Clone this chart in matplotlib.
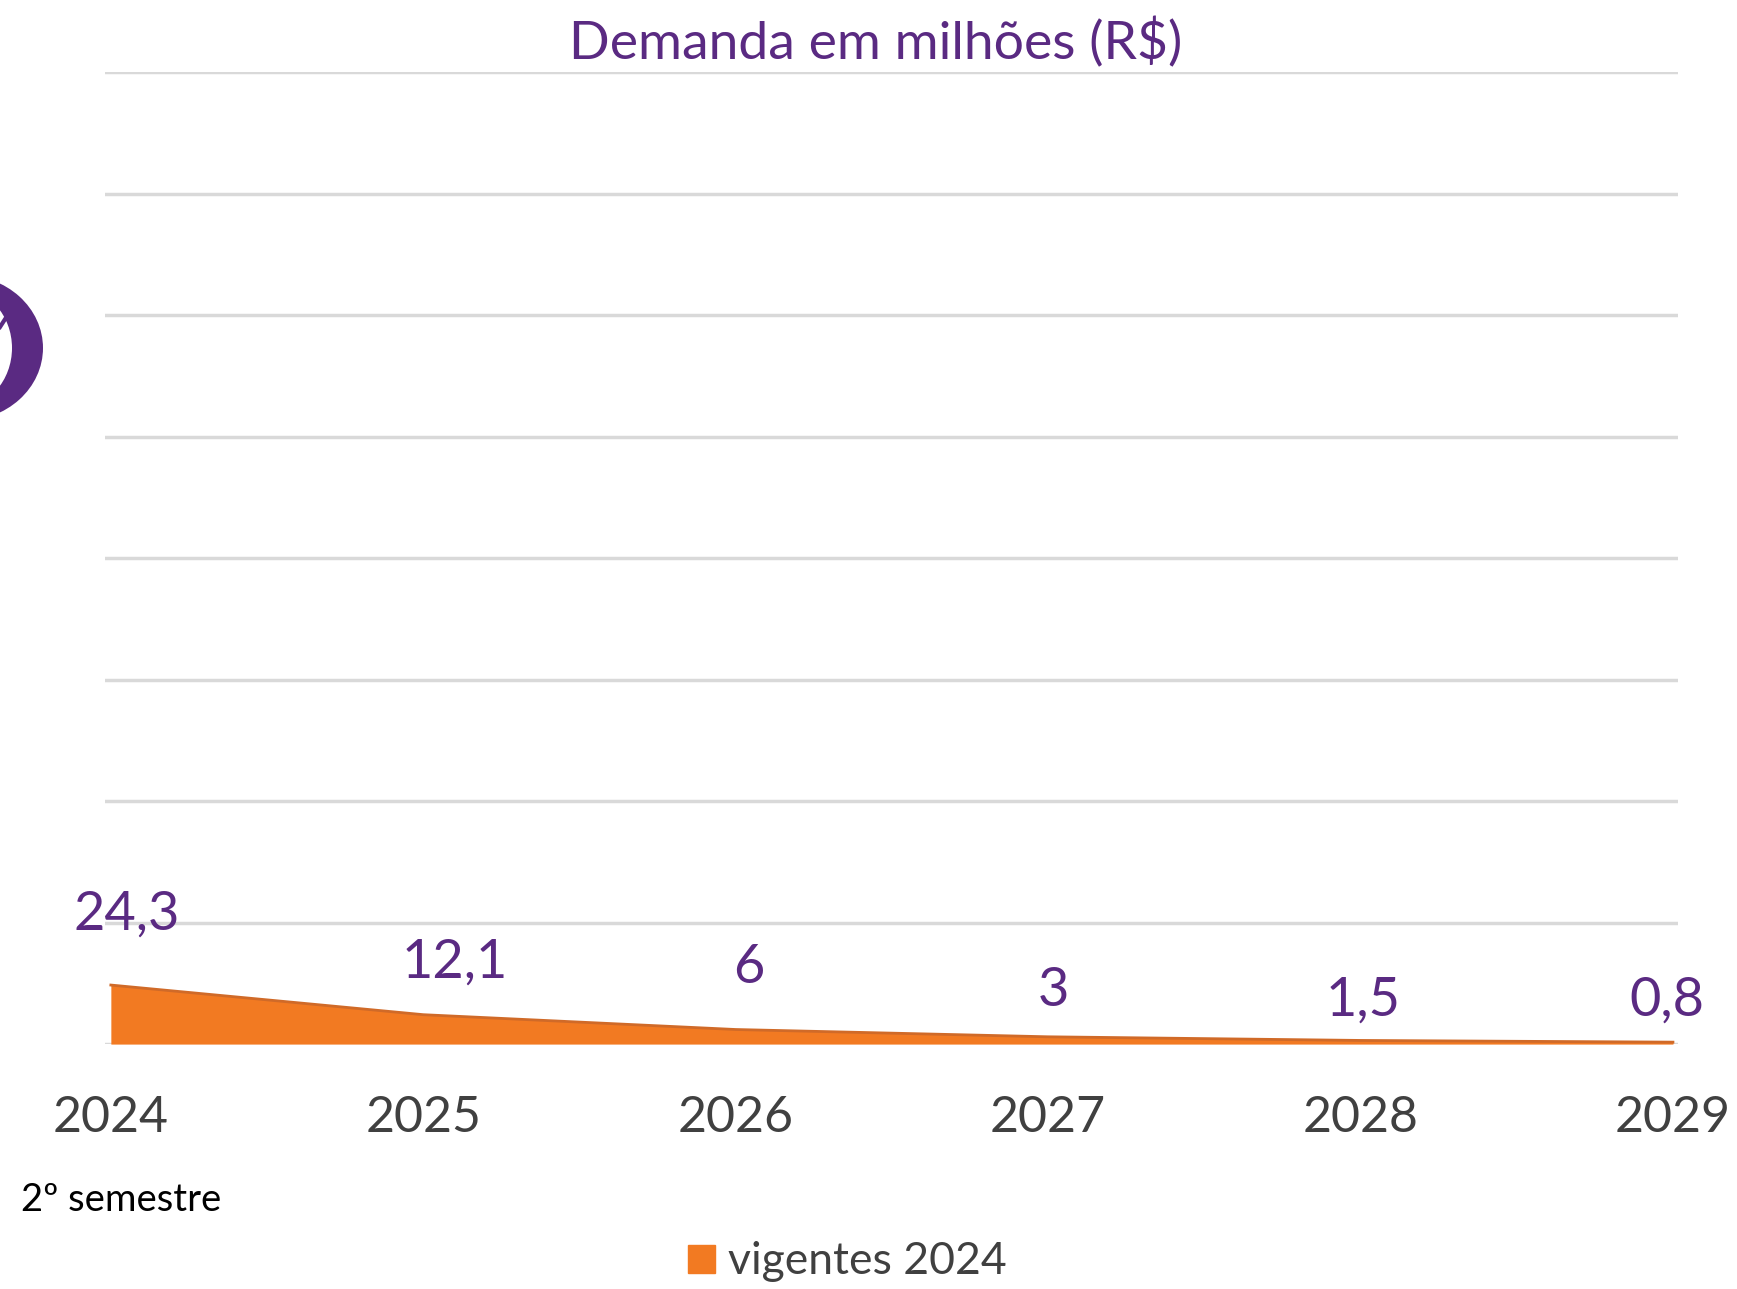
import matplotlib
matplotlib.use("Agg")
import matplotlib.pyplot as plt
from matplotlib.patches import Ellipse

years = ["2024", "2025", "2026", "2027", "2028", "2029"]
values = [24.3, 12.1, 6, 3, 1.5, 0.8]
value_labels = ["24,3", "12,1", "6", "3", "1,5", "0,8"]
series_name = "vigentes 2024"
title = "Demanda em milhões (R$)"
subtitle = "2º semestre"

# label offsets in pixels (layout only)
label_offsets = [(16, 71), (31, 53), (13, 62), (5, 46), (3, 40), (-6, 42)]

purple = "#5a2a82"
orange = "#f27a22"
fam = ["Lato", "DejaVu Sans"]

fig = plt.figure(figsize=(17.37, 12.89), dpi=100)
ax = fig.add_axes([0.0604, 0.190, 0.9056, 0.754])
x = list(range(len(years)))
ax.fill_between(x, 0, values, color=orange, linewidth=0, zorder=3)
ax.plot(x, values, color="#d06a28", linewidth=2, zorder=4)
ax.set_xlim(-0.019, 5.016)
ax.set_ylim(0, 400)
ax.set_yticks(range(0, 401, 50))
ax.yaxis.grid(True, color="#d9d9d9", linewidth=2.5)
ax.set_axisbelow(True)
ax.tick_params(axis="y", left=False, labelleft=False)
ax.set_xticks(x)
ax.set_xticklabels(years, family=fam, fontsize=36, color="#404040")
ax.tick_params(axis="x", length=0, pad=37)
for s in ax.spines.values():
    s.set_visible(False)

for xi, v, lab, (dx, dy) in zip(x, values, value_labels, label_offsets):
    ax.annotate(lab, (xi, v), xytext=(dx, dy), textcoords="offset pixels",
                ha="center", va="center", color=purple, fontsize=39, family=fam,
                zorder=5)

fig.text(0.504, 0.967, title, ha="center", va="center", color=purple,
         fontsize=38.5, family=fam)
fig.text(0.012, 0.069, subtitle, ha="left", va="center", color="black",
         fontsize=27.5, family=fam)

# partial purple decoration at left edge (crescent)
tr = fig.dpi_scale_trans
outer = Ellipse((-0.38, 12.89 - 3.48), 1.62, 1.46, facecolor=purple,
                edgecolor="none", transform=tr)
inner = Ellipse((-0.42, 12.89 - 3.48), 1.08, 1.20, facecolor="white",
                edgecolor="none", transform=tr)
fig.patches.extend([outer, inner])
fig.lines.append(plt.Line2D([0.0, 0.09], [12.89 - 3.27, 12.89 - 3.13],
                            color=purple, linewidth=3, transform=tr))

leg = fig.legend([plt.Rectangle((0, 0), 1, 1, color=orange)], [series_name],
                 loc="center", bbox_to_anchor=(0.488, 0.021), frameon=False,
                 prop={"family": fam, "size": 32}, labelcolor="#404040",
                 handlelength=0.6, handleheight=0.6, handletextpad=0.3)

fig.savefig("out.png", dpi=100)
